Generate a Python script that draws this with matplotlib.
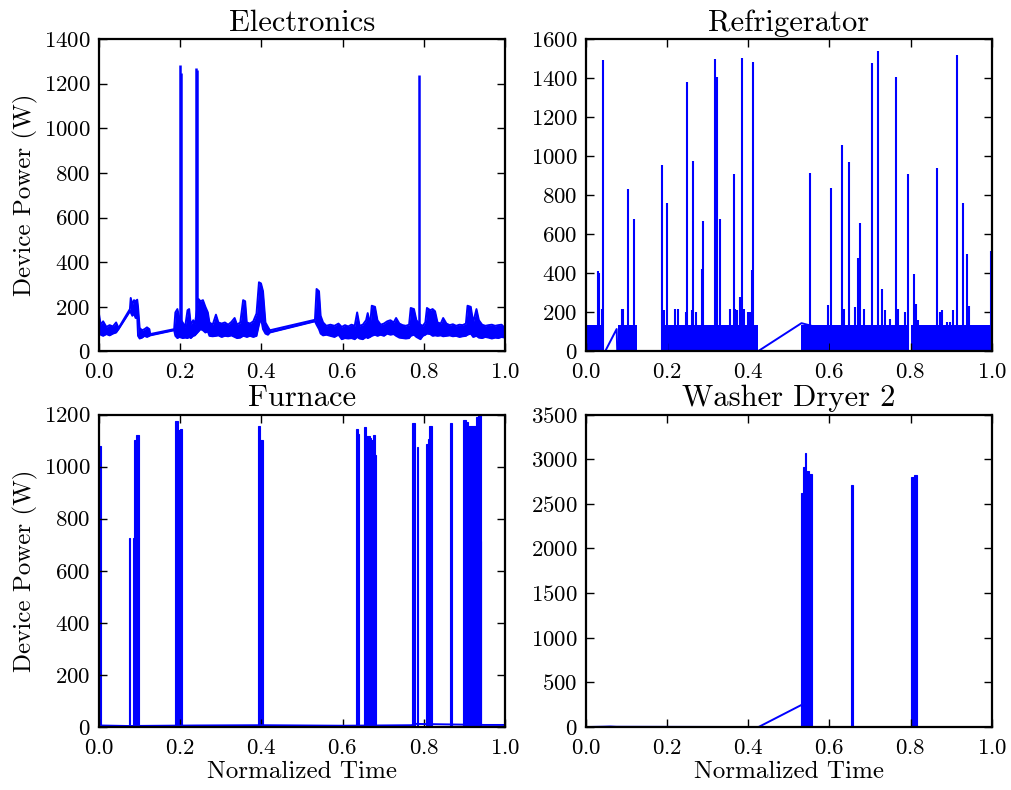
import numpy as np
import matplotlib
matplotlib.use("Agg")
import matplotlib.pyplot as plt

# ---- Electronics: noisy band (low / high envelope) plus narrow spikes
elec_t = [0.000, 0.004, 0.010, 0.018, 0.026, 0.034, 0.042, 0.048, 0.076, 0.078,
          0.082, 0.086, 0.090, 0.094, 0.096, 0.100, 0.106, 0.112, 0.118, 0.124,
          0.126, 0.185, 0.188, 0.193, 0.198, 0.206, 0.212, 0.218, 0.222, 0.226,
          0.232, 0.236, 0.245, 0.250, 0.256, 0.262, 0.268, 0.272, 0.280, 0.288,
          0.294, 0.302, 0.310, 0.318, 0.326, 0.334, 0.340, 0.348, 0.355, 0.360,
          0.364, 0.372, 0.380, 0.388, 0.394, 0.399, 0.404, 0.410, 0.416, 0.421,
          0.532, 0.536, 0.542, 0.546, 0.552, 0.560, 0.570, 0.580, 0.590, 0.598,
          0.606, 0.614, 0.622, 0.630, 0.636, 0.642, 0.650, 0.658, 0.662, 0.668,
          0.672, 0.680, 0.686, 0.694, 0.702, 0.710, 0.718, 0.726, 0.732, 0.740,
          0.748, 0.756, 0.764, 0.768, 0.776, 0.782, 0.792, 0.798, 0.804, 0.808,
          0.816, 0.822, 0.828, 0.834, 0.842, 0.848, 0.856, 0.864, 0.872, 0.880,
          0.888, 0.896, 0.904, 0.908, 0.916, 0.922, 0.930, 0.936, 0.944, 0.952,
          0.960, 0.968, 0.976, 0.984, 0.992, 1.000]
elec_lo = [80, 75, 70, 78, 72, 80, 85, 100, 180, 175,
           160, 170, 150, 160, 70, 58, 62, 70, 65, 70,
           72, 95, 70, 60, 65, 60, 62, 60, 65, 60,
           70, 72, 90, 100, 95, 85, 90, 70, 68, 70,
           72, 65, 70, 68, 72, 65, 60, 62, 70, 68,
           65, 70, 65, 70, 120, 150, 100, 80, 75, 85,
           135, 120, 100, 80, 72, 75, 70, 65, 75, 55,
           60, 58, 60, 55, 65, 58, 55, 65, 60, 65,
           70, 75, 70, 75, 70, 80, 75, 78, 70, 62,
           60, 58, 60, 70, 75, 65, 55, 70, 75, 80,
           78, 70, 72, 70, 72, 68, 70, 72, 68, 70,
           65, 68, 70, 75, 80, 65, 70, 62, 60, 65,
           62, 58, 62, 60, 65, 62]
elec_hi = [165, 120, 135, 110, 118, 112, 130, 105, 190, 240,
           210, 230, 225, 232, 200, 105, 95, 100, 108, 100,
           78, 100, 175, 190, 150, 130, 110, 185, 190, 120,
           140, 120, 235, 225, 230, 200, 175, 130, 120, 165,
           130, 125, 130, 120, 132, 150, 120, 130, 230, 225,
           130, 125, 135, 170, 310, 305, 270, 130, 110, 95,
           142, 280, 270, 160, 130, 115, 120, 115, 125, 110,
           118, 112, 120, 115, 175, 115, 120, 140, 172, 120,
           205, 200, 140, 120, 125, 135, 140, 130, 150, 125,
           118, 115, 120, 195, 190, 140, 120, 115, 130, 195,
           185, 190, 180, 130, 125, 150, 125, 118, 122, 115,
           120, 118, 125, 205, 200, 130, 190, 140, 120, 115,
           118, 120, 115, 118, 120, 105]
elec_spike_t = [0.1995, 0.2025, 0.2395, 0.2415, 0.7885]
elec_spike_p = [1283, 1250, 1268, 1262, 1238]

# ---- Refrigerator: compressor cycling blocks, start-up spikes, gap lines
fridge_t = [0.0, 0.045, 0.047, 0.0755, 0.077, 0.126, 0.186, 0.423, 0.531, 0.796, 0.800, 1.0]
fridge_p = [0, 0, 0, 115, 0, 0, 0, 0, 145, 0, 0, 0]
fridge_on_start = [0.000, 0.078, 0.186, 0.531, 0.800]
fridge_on_end = [0.045, 0.126, 0.423, 0.796, 0.995]
fridge_on_level = [136, 137, 135, 137, 136]
fridge_spike_t = [0.030, 0.033, 0.039, 0.043, 0.088, 0.092, 0.103, 0.118, 0.187,
                  0.191, 0.200, 0.219, 0.226, 0.246, 0.250, 0.260, 0.264, 0.270,
                  0.285, 0.288, 0.318, 0.323, 0.329, 0.355, 0.365, 0.367, 0.371,
                  0.380, 0.384, 0.390, 0.400, 0.404, 0.408, 0.412, 0.553, 0.596,
                  0.603, 0.630, 0.635, 0.648, 0.663, 0.671, 0.675, 0.684, 0.704,
                  0.719, 0.729, 0.737, 0.749, 0.763, 0.770, 0.786, 0.794, 0.809,
                  0.813, 0.819, 0.864, 0.873, 0.877, 0.889, 0.897, 0.905, 0.915,
                  0.930, 0.940, 0.943, 0.998]
fridge_spike_p = [412, 400, 219, 1492, 219, 219, 831, 677, 954,
                  210, 760, 219, 219, 200, 1381, 210, 976, 200,
                  424, 668, 1496, 1407, 680, 219, 911, 219, 210,
                  279, 1504, 219, 200, 200, 419, 1484, 916, 236,
                  838, 1056, 219, 968, 227, 479, 660, 219, 1475,
                  1540, 318, 210, 168, 1407, 219, 200, 911, 398,
                  241, 160, 937, 200, 210, 150, 150, 210, 1518,
                  762, 501, 232, 513]

# ---- Furnace: near-zero standby with dense heating bursts
furn_base_t = [0.0, 0.07, 0.24, 0.40, 0.60, 0.77, 0.78, 0.95, 1.0]
furn_base_p = [6, 4, 6, 7, 5, 7, 12, 8, 8]
furn_start = [0.000, 0.073, 0.083, 0.087, 0.092, 0.187, 0.194, 0.200, 0.392, 0.397,
              0.633, 0.639, 0.653, 0.659, 0.6665, 0.6705, 0.6745, 0.681, 0.772, 0.783,
              0.805, 0.810, 0.814, 0.865, 0.898, 0.904, 0.909, 0.923, 0.930, 0.935,
              0.940]
furn_end = [0.005, 0.076, 0.086, 0.092, 0.0975, 0.194, 0.200, 0.205, 0.396, 0.403,
            0.639, 0.641, 0.659, 0.6665, 0.6705, 0.6745, 0.681, 0.683, 0.778, 0.787,
            0.810, 0.814, 0.821, 0.869, 0.904, 0.909, 0.923, 0.930, 0.935, 0.940,
            0.942]
furn_peak = [1081, 727, 727, 1102, 1121, 1175, 1141, 1143, 1158, 1102,
             1145, 1126, 1154, 1118, 1110, 1102, 1123, 1043, 1166, 1077,
             1087, 1106, 1158, 1166, 1181, 1171, 1158, 1158, 1192, 1200,
             716]

# ---- Washer Dryer 2
wash_t = [0.0, 0.045, 0.060, 0.075, 0.425, 0.532, 0.534, 0.66, 0.80, 1.0]
wash_p = [0, 4, 6, 3, 0, 250, 0, 0, 0, 0]
wash_start = [0.531, 0.535, 0.539, 0.543, 0.549, 0.654, 0.802, 0.809]
wash_end = [0.535, 0.539, 0.543, 0.549, 0.556, 0.659, 0.809, 0.816]
wash_peak = [2619, 2911, 3067, 2873, 2836, 2706, 2806, 2828]

plt.rcParams['font.family'] = 'cmr10'
plt.rcParams['mathtext.fontset'] = 'cm'
plt.rcParams['axes.formatter.use_mathtext'] = True
plt.rcParams['xtick.direction'] = 'in'
plt.rcParams['ytick.direction'] = 'in'
plt.rcParams['xtick.top'] = True
plt.rcParams['ytick.right'] = True
plt.rcParams['xtick.major.size'] = 6
plt.rcParams['ytick.major.size'] = 6
plt.rcParams['xtick.major.pad'] = 8
plt.rcParams['ytick.major.pad'] = 6
plt.rcParams['xtick.labelsize'] = 16.5
plt.rcParams['ytick.labelsize'] = 16.5
plt.rcParams['axes.linewidth'] = 1.6

blue = (0, 0, 1)
lw = 1.4

fig, axs = plt.subplots(2, 2, figsize=(10.11, 7.9), dpi=100)
fig.subplots_adjust(left=0.098, right=0.981, top=0.9506, bottom=0.0797,
                    wspace=0.2, hspace=0.202)
ax1, ax2 = axs[0]
ax3, ax4 = axs[1]

# Electronics
ax1.fill_between(elec_t, elec_lo, elec_hi, color=blue, lw=0)
ax1.plot(elec_t, elec_lo, color=blue, lw=lw)
ax1.plot(elec_t, elec_hi, color=blue, lw=lw)
ax1.vlines(elec_spike_t, 100, elec_spike_p, color=blue, lw=1.8)
ax1.set_ylim(0, 1400)
ax1.set_yticks(np.arange(0, 1401, 200))
ax1.set_title("Electronics", fontsize=22)

# Refrigerator
ax2.plot(fridge_t, fridge_p, color=blue, lw=lw)
ax2.bar(fridge_on_start, fridge_on_level,
        width=np.array(fridge_on_end) - np.array(fridge_on_start),
        align='edge', color=blue, lw=0)
ax2.vlines(fridge_spike_t, 0, fridge_spike_p, color=blue, lw=1.5)
ax2.set_ylim(0, 1600)
ax2.set_yticks(np.arange(0, 1601, 200))
ax2.set_title("Refrigerator", fontsize=22)

# Furnace
ax3.plot(furn_base_t, furn_base_p, color=blue, lw=lw)
ax3.bar(furn_start, furn_peak,
        width=np.array(furn_end) - np.array(furn_start),
        align='edge', color=blue, edgecolor=blue, lw=0.8)
ax3.set_ylim(0, 1200)
ax3.set_yticks(np.arange(0, 1201, 200))
ax3.set_title("Furnace", fontsize=22)

# Washer Dryer 2
ax4.plot(wash_t, wash_p, color=blue, lw=lw)
ax4.bar(wash_start, wash_peak,
        width=np.array(wash_end) - np.array(wash_start),
        align='edge', color=blue, edgecolor=blue, lw=0.8)
ax4.set_ylim(0, 3500)
ax4.set_yticks(np.arange(0, 3501, 500))
ax4.set_title("Washer Dryer 2", fontsize=22)

for ax in (ax1, ax2, ax3, ax4):
    ax.set_xlim(0, 1)
    ax.set_xticks(np.arange(0, 1.01, 0.2))
    ax.tick_params(width=1)

ax1.set_ylabel("Device Power (W)", fontsize=18)
ax3.set_ylabel("Device Power (W)", fontsize=18)
ax3.set_xlabel("Normalized Time", fontsize=18, labelpad=2)
ax4.set_xlabel("Normalized Time", fontsize=18, labelpad=2)

fig.savefig("out.png", dpi=100, facecolor='white')
